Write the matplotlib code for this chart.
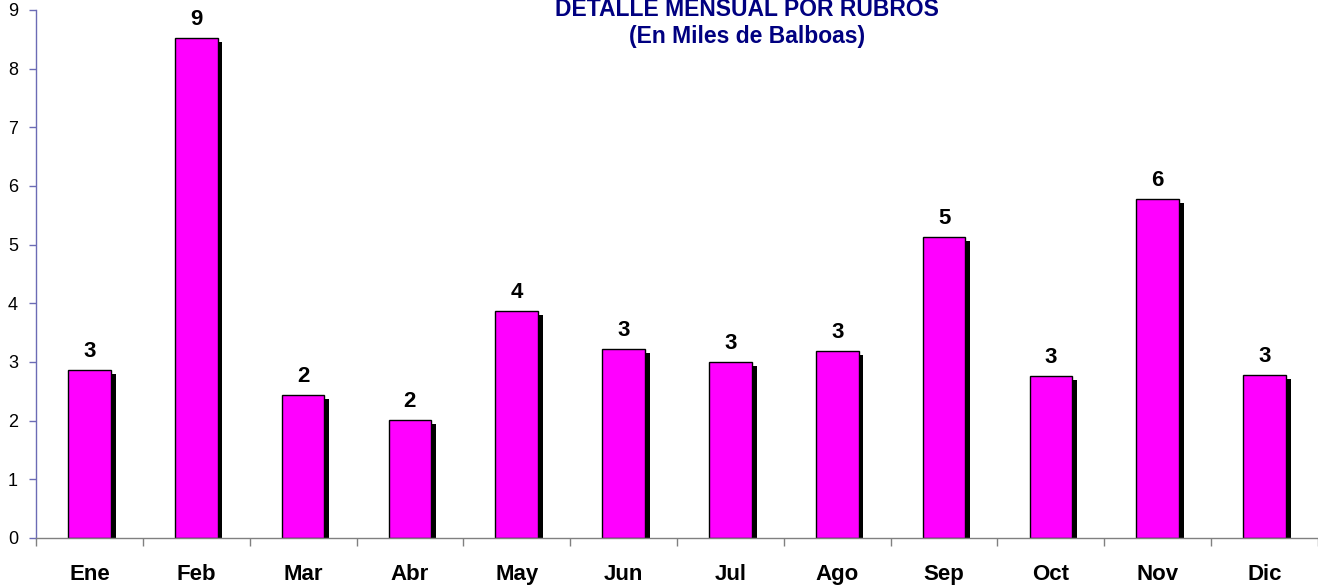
import matplotlib
matplotlib.use("Agg")
import matplotlib.pyplot as plt
import matplotlib.patheffects as pe
import numpy as np

months = ["Ene", "Feb", "Mar", "Abr", "May", "Jun", "Jul", "Ago", "Sep", "Oct", "Nov", "Dic"]
values = [2.86, 8.52, 2.44, 2.01, 3.87, 3.22, 3.00, 3.19, 5.13, 2.76, 5.78, 2.78]
title1 = "DETALLE MENSUAL POR RUBROS"
title2 = "(En Miles de Balboas)"

plt.rcParams['font.family'] = ['Liberation Sans', 'DejaVu Sans']

fig = plt.figure(figsize=(13.18, 5.85), dpi=100)
ax = fig.add_axes([36/1318, 1-538/585, 1-36/1318, (538-10)/585])

x = np.arange(len(months))
bars = ax.bar(x, values, width=0.40, color="#FF00FF", edgecolor="black", linewidth=1.0,
              path_effects=[pe.SimplePatchShadow(offset=(3.5, -3), shadow_rgbFace="black", alpha=1.0),
                            pe.Normal()])

for xi, v in zip(x, values):
    ax.annotate(f"{v:.0f}", (xi, v), xytext=(0, 6), textcoords="offset points",
                ha="center", va="bottom", fontsize=16, fontweight="bold", color="black")

ax.set_xlim(-0.5, len(months) - 0.5)
ax.set_ylim(0, 9)
ax.set_yticks(range(0, 10))
ax.set_xticks(x)
ax.set_xticklabels(months, fontsize=16, fontweight="bold")
ax.set_xticks(np.arange(-0.5, len(months) + 0.5, 1), minor=True)
ax.tick_params(axis="x", which="major", length=0, pad=19)
ax.tick_params(axis="x", which="minor", length=6, direction="out", color="#808080", width=1)
ax.tick_params(axis="y", length=5, direction="out", color="#6B6BB5", width=1, labelsize=13, pad=8)

for s in ["top", "right"]:
    ax.spines[s].set_visible(False)
ax.spines["left"].set_color("#6B6BB5")
ax.spines["bottom"].set_color("#808080")
ax.spines["left"].set_linewidth(1.0)
ax.spines["bottom"].set_linewidth(1.0)

fig.text(747/1318, 1-16/585, title1, ha="center", va="baseline", fontsize=16.5,
         fontweight="bold", color="#000080")
fig.text(747/1318, 1-43/585, title2, ha="center", va="baseline", fontsize=16.5,
         fontweight="bold", color="#000080")

fig.savefig("out.png", dpi=100)
